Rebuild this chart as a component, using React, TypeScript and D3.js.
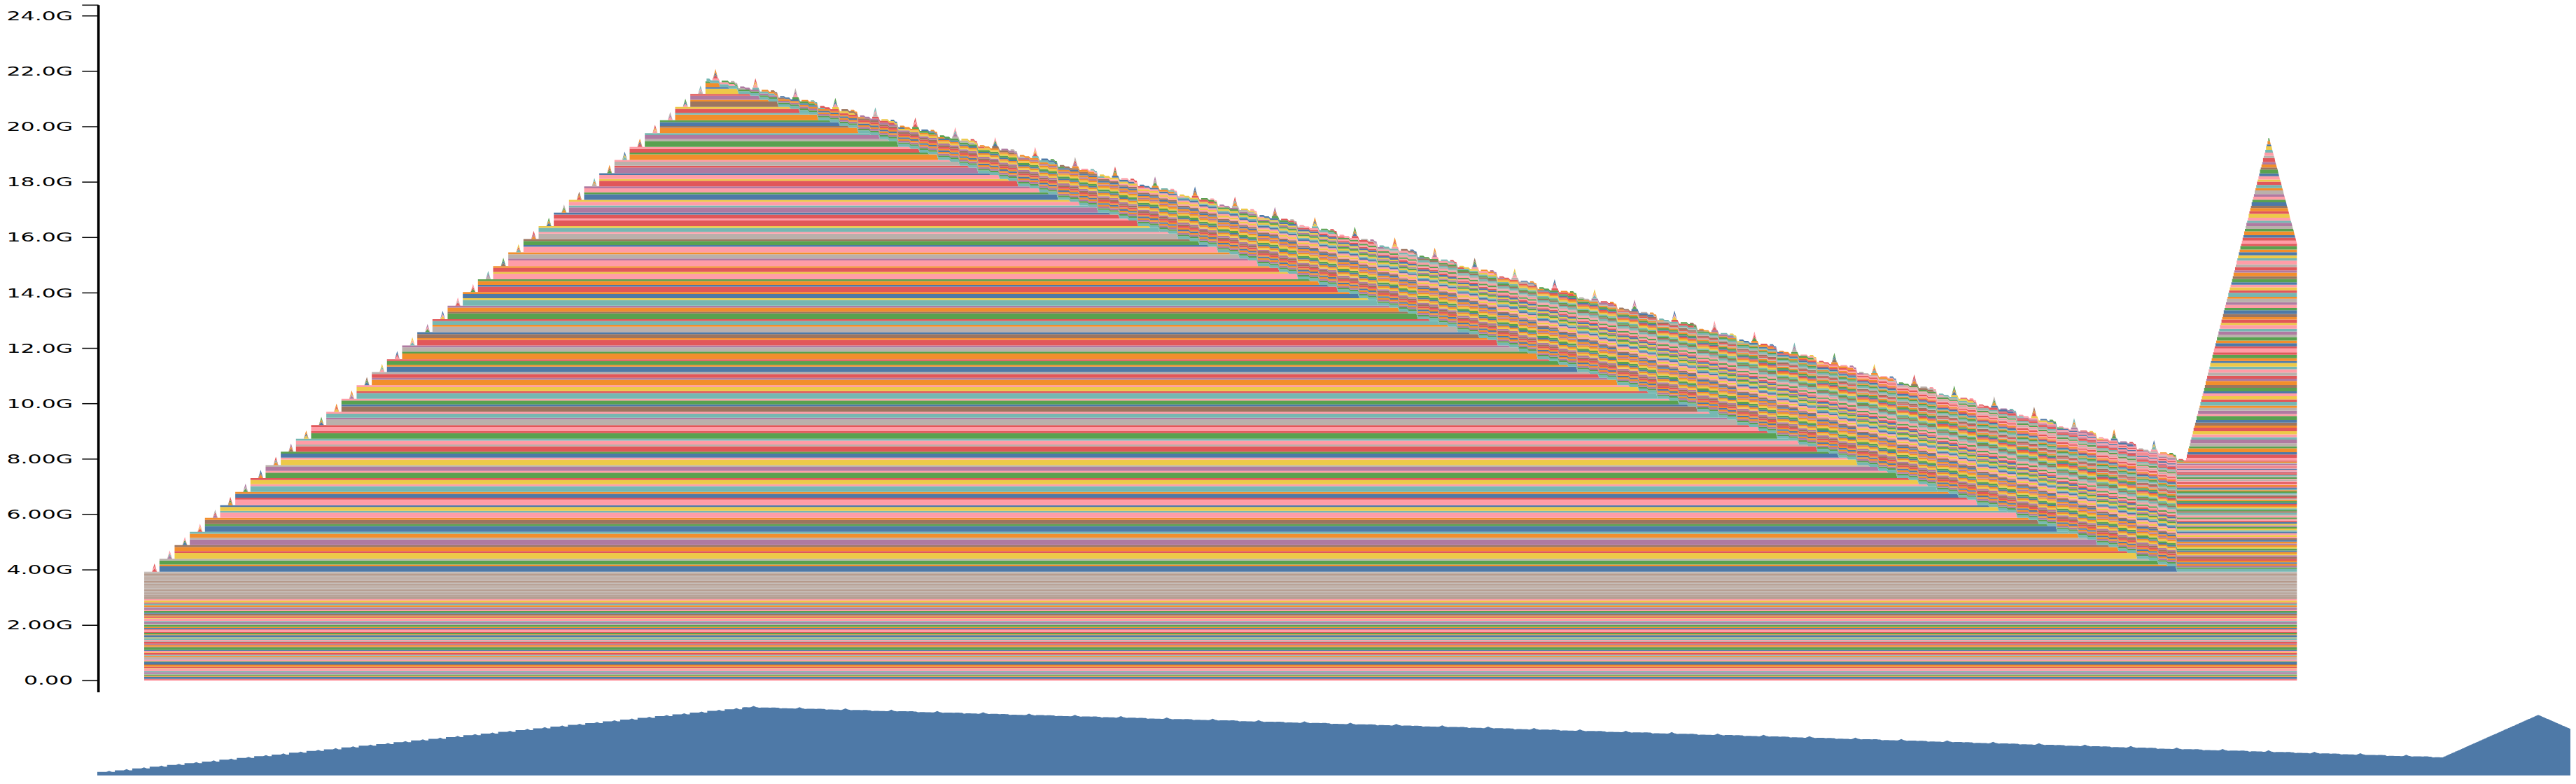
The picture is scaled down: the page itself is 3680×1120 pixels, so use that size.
import React, { useMemo } from "react";
import * as d3 from "d3";

// ---------------- data (sizes in MB) ----------------
const MB = 1e6;

// persistent parameter tensors that form the 0 – 2.95G floor
const baseParamMB = [
  40, 26, 78, 30, 52, 18, 64, 36, 90, 22, 48, 60, 28, 72, 34, 56, 20, 84, 44, 30,
  66, 24, 50, 38, 96, 26, 58, 42, 70, 22, 46, 62, 32, 80, 28, 54, 40, 68, 24, 50,
  36, 74, 30, 58, 44, 88, 26, 52, 34, 66, 38, 60, 48, 72, 30, 64, 56, 42, 70, 54,
];

// many tiny tensors forming the tan band 2.95G – 3.92G
const embedShardMB = [
  18, 21, 19, 20, 17, 22, 19, 18, 21, 20, 19, 23, 18, 20, 19, 21, 17, 20, 22, 19,
  18, 21, 20, 19, 18, 22, 19, 20, 17, 21, 20, 19, 23, 18, 20, 19, 21, 18, 20, 19,
  22, 17, 20, 19, 21, 18, 20, 19, 21, 20,
];
const embedShardColor = [8, 9, 8, 9, 9];

// forward activations: one entry per forward step (37 steps up to the 21.6G peak)
const fwdStepMB = [
  470, 490, 480, 505, 460, 475, 500, 470, 485, 465, 495, 480, 470, 490, 475, 460, 500, 480, 470,
  485, 490, 465, 475, 495, 480, 470, 485, 460, 490, 475, 480, 470, 495, 465, 480, 470, 455,
];
const fwdSplit = [0.42, 0.14, 0.3, 0.14];

// transient spikes
const upSpikeMB = [120, 80, 100];
const downSpikeMB = [130, 90, 120];

// backward: gradients kept until the optimizer step
const gradTealMB = 100;
const gradAMB = [
  58, 62, 54, 64, 58, 50, 66, 56, 60, 52, 60, 50, 62, 54, 50, 56, 46, 58, 48, 50,
  42, 52, 46, 38, 54, 40, 46, 42, 44, 36, 48, 40, 36, 46, 38, 42, 36,
];
const gradBMB = [
  66, 58, 70, 62, 64, 74, 58, 68, 60, 70, 58, 64, 54, 66, 58, 60, 62, 52, 58, 52,
  62, 46, 54, 58, 44, 54, 50, 52, 44, 54, 46, 48, 52, 42, 48, 46, 44,
];
const actTempMB = [70, 50];

// optimizer step allocations (7.9G -> 19.5G), last ones released (-> 15.7G)
const optimMB = [
  96, 120, 84, 140, 72, 110, 130, 88, 102, 116,
  124, 78, 106, 92, 150, 68, 118, 100, 86, 136,
  90, 112, 104, 76, 128, 98, 144, 82, 108, 116,
  118, 94, 132, 70, 106, 122, 88, 140, 80, 108,
  100, 126, 86, 114, 96, 138, 74, 120, 92, 112,
  134, 82, 110, 98, 124, 70, 146, 90, 104, 100,
  88, 116, 102, 130, 78, 120, 94, 142, 84, 104,
  112, 96, 128, 80, 118, 106, 90, 136, 86, 106,
  120, 74, 108, 140, 92, 114, 82, 126, 98, 104,
  94, 132, 86, 110, 124, 76, 118, 100, 138, 80,
  106, 90, 144, 84, 112, 98, 126, 72, 118, 108,
];
const optimFreedCount = 36;

const colorCycle = [
  7, 2, 0, 1, 4, 9, 6, 3, 7, 5, 2, 1, 8, 0, 4, 7, 6, 9, 1, 3, 2, 5, 7, 0, 4, 8, 1, 6, 2, 9, 7, 3, 5, 0, 1, 4, 2,
];

// timeline (event clock)
const T_END = 1398;
const ASC_START = 6.7;
const ASC_PERIOD = 9.85;
const DESC_START = 366;
const DESC_PERIOD = 25.95;
const OPT_START = 1326;

// ---------------- simulation of the allocator stack ----------------
type Pt = { t: number; off: number; size: number };
type Blk = { id: number; color: number; pts: Pt[]; size: number; off: number };

function simulate() {
  const blocks: Blk[] = [];
  const live: Blk[] = [];
  const totals: [number, number][] = [[0, 0]];
  let top = 0;
  let nextId = 0;

  const alloc = (t: number, mb: number, color?: number) => {
    const size = mb * MB;
    const id = nextId++;
    const b: Blk = { id, color: color ?? colorCycle[id % colorCycle.length], pts: [], size, off: top };
    b.pts.push({ t, off: top, size });
    live.push(b);
    blocks.push(b);
    totals.push([t, top]);
    top += size;
    totals.push([t, top]);
    return b;
  };
  const free = (t: number, b: Blk, dur = 1) => {
    const i = live.indexOf(b);
    b.pts.push({ t, off: b.off, size: b.size });
    b.pts.push({ t: t + dur, off: b.off, size: 0 });
    live.splice(i, 1);
    for (let j = i; j < live.length; j++) {
      const u = live[j];
      u.pts.push({ t, off: u.off, size: u.size });
      u.off -= b.size;
      u.pts.push({ t: t + dur, off: u.off, size: u.size });
    }
    totals.push([t, top]);
    top -= b.size;
    totals.push([t + dur, top]);
  };
  const needle = (t: number, parts: number[], w: number) => {
    let cum = 0;
    for (const p of parts) {
      const id = nextId++;
      const size = p * MB;
      blocks.push({
        id,
        color: colorCycle[id % colorCycle.length],
        size,
        off: top,
        pts: [
          { t: t - w, off: top, size: 0 },
          { t, off: top + cum, size },
          { t: t + w, off: top, size: 0 },
        ],
      });
      cum += size;
    }
    totals.push([t - w, top], [t, top + cum], [t + w, top]);
  };

  baseParamMB.forEach((m) => alloc(0, m));
  embedShardMB.forEach((m, i) => alloc(0, m, embedShardColor[i % embedShardColor.length]));

  const fwd: Blk[][] = [];
  fwdStepMB.forEach((m, k) => {
    const t0 = ASC_START + ASC_PERIOD * k;
    needle(t0, upSpikeMB, 1.6);
    fwd.push(fwdSplit.map((f) => alloc(t0 + 3.2, m * f)));
  });

  alloc(DESC_START - 0.8, gradTealMB, 3);

  for (let j = 0; j < fwdStepMB.length; j++) {
    const s = DESC_START + DESC_PERIOD * j;
    const step = fwd[fwdStepMB.length - 1 - j];
    free(s + 1, step[3]);
    const t1 = alloc(s + 3, actTempMB[0]);
    needle(s + 5, downSpikeMB, 1.6);
    free(s + 7, step[2]);
    alloc(s + 9, gradAMB[j]);
    free(s + 13, step[1]);
    const t2 = alloc(s + 15, actTempMB[1]);
    free(s + 17, t1);
    free(s + 19, step[0]);
    alloc(s + 21, gradBMB[j]);
    free(s + 23.5, t2);
  }

  optimMB.forEach((m, i) => alloc(OPT_START + 0.49 * i, m));
  for (let m = 0; m < optimFreedCount; m++) {
    free(OPT_START + 54 + 0.5 * m, live[live.length - 1], 0.5);
  }

  for (const b of live) b.pts.push({ t: T_END, off: b.off, size: b.size });
  totals.push([T_END, top]);
  return { blocks, totals };
}

// ---------------- component ----------------
export default function App() {
  const { blocks, totals } = useMemo(simulate, []);
  const colors = d3.schemeTableau10;

  const x = d3.scaleLinear().domain([0, T_END]).range([206, 3281.3]);
  const y = d3.scaleLinear().domain([-0.42e9, 24.39e9]).range([989, 7.3]);
  const cx = d3.scaleLinear().domain([0, T_END]).range([139, 3672]);
  const cy = d3.scaleLinear().domain([0, 24e9]).range([1123.3, 998.5]);

  const area = d3
    .area<Pt>()
    .x((p) => x(p.t))
    .y0((p) => y(p.off))
    .y1((p) => y(p.off + p.size));

  const miniArea = d3
    .area<[number, number]>()
    .x((d) => cx(d[0]))
    .y0(cy(0))
    .y1((d) => cy(d[1]));

  const fmt = d3.format(".3s");
  const ticks = y.ticks(12);
  const axisX = 140.7;

  return (
    <svg
      width={3680}
      height={1120}
      style={{ position: "absolute", left: 0, top: 0, background: "#fff" }}
    >
      <defs>
        <clipPath id="miniClip">
          <rect x={0} y={0} width={3680} height={1107.7} />
        </clipPath>
      </defs>
      <g>
        {blocks.map((b) => (
          <path key={b.id} d={area(b.pts) || ""} fill={colors[b.color % colors.length]} />
        ))}
      </g>
      <g>
        <line x1={axisX} x2={axisX} y1={7.3} y2={989} stroke="#000" strokeWidth={3.6} />
        <line x1={117.3} x2={axisX} y1={7.3} y2={7.3} stroke="#000" strokeWidth={1.5} />
        {ticks.map((v) => (
          <g key={v}>
            <line x1={117.3} x2={axisX} y1={y(v)} y2={y(v)} stroke="#000" strokeWidth={1.5} />
            <text
              transform={`translate(104.3, ${y(v) + 6.1}) scale(1.87, 1)`}
              textAnchor="end"
              fontFamily="DejaVu Sans"
              fontSize={16.9}
              fill="#000"
            >
              {fmt(v)}
            </text>
          </g>
        ))}
      </g>
      <g clipPath="url(#miniClip)">
        <path d={miniArea(totals) || ""} fill={colors[0]} />
      </g>
    </svg>
  );
}
